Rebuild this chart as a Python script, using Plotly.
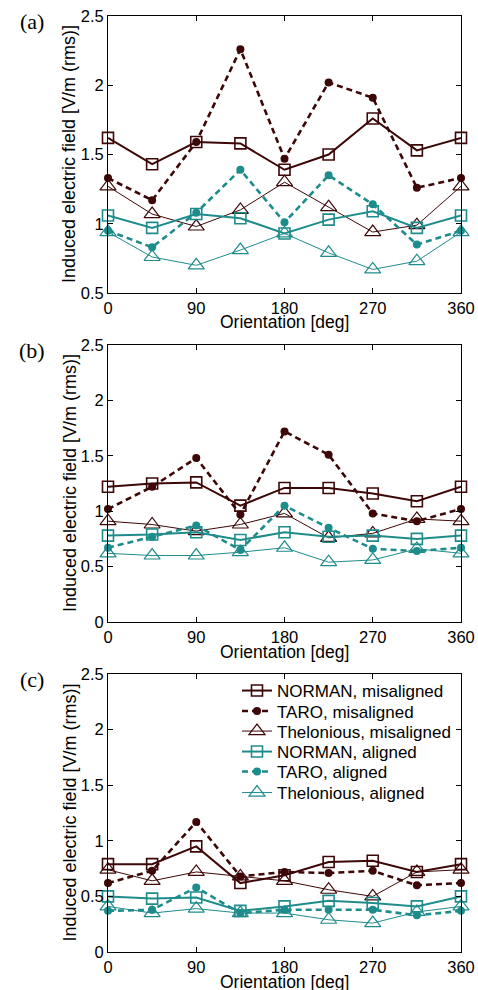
import plotly.graph_objects as go

orientation = [0, 45, 90, 135, 180, 225, 270, 315, 360]

series_names = ["NORMAN, misaligned", "TARO, misaligned", "Thelonious, misaligned",
                "NORMAN, aligned", "TARO, aligned", "Thelonious, aligned"]

# Panel (a)
a_norman_mis = [1.62, 1.43, 1.59, 1.58, 1.39, 1.50, 1.76, 1.53, 1.62]
a_taro_mis   = [1.33, 1.17, 1.59, 2.26, 1.47, 2.02, 1.91, 1.26, 1.33]
a_thel_mis   = [1.27, 1.07, 0.98, 1.10, 1.30, 1.12, 0.94, 0.99, 1.27]
a_norman_al  = [1.06, 0.97, 1.07, 1.04, 0.93, 1.03, 1.09, 0.97, 1.06]
a_taro_al    = [0.95, 0.83, 1.08, 1.39, 1.01, 1.35, 1.14, 0.85, 0.95]
a_thel_al    = [0.94, 0.76, 0.70, 0.81, 0.93, 0.79, 0.67, 0.73, 0.94]

# Panel (b)
b_norman_mis = [1.22, 1.25, 1.26, 1.05, 1.21, 1.21, 1.16, 1.09, 1.22]
b_taro_mis   = [1.02, 1.22, 1.48, 0.97, 1.72, 1.51, 0.98, 0.91, 1.02]
b_thel_mis   = [0.91, 0.88, 0.82, 0.88, 0.98, 0.76, 0.80, 0.93, 0.91]
b_norman_al  = [0.78, 0.79, 0.81, 0.74, 0.81, 0.77, 0.78, 0.75, 0.78]
b_taro_al    = [0.67, 0.77, 0.87, 0.65, 1.05, 0.85, 0.66, 0.64, 0.67]
b_thel_al    = [0.62, 0.60, 0.60, 0.63, 0.67, 0.54, 0.56, 0.66, 0.62]

# Panel (c)
c_norman_mis = [0.79, 0.79, 0.95, 0.62, 0.69, 0.81, 0.82, 0.72, 0.79]
c_taro_mis   = [0.62, 0.73, 1.17, 0.68, 0.72, 0.71, 0.73, 0.60, 0.62]
c_thel_mis   = [0.74, 0.64, 0.72, 0.68, 0.64, 0.56, 0.50, 0.72, 0.74]
c_norman_al  = [0.50, 0.48, 0.49, 0.37, 0.41, 0.46, 0.44, 0.41, 0.50]
c_taro_al    = [0.37, 0.38, 0.58, 0.35, 0.38, 0.38, 0.38, 0.33, 0.37]
c_thel_al    = [0.41, 0.35, 0.39, 0.35, 0.35, 0.29, 0.26, 0.36, 0.41]

panels = [
    [a_norman_mis, a_taro_mis, a_thel_mis, a_norman_al, a_taro_al, a_thel_al],
    [b_norman_mis, b_taro_mis, b_thel_mis, b_norman_al, b_taro_al, b_thel_al],
    [c_norman_mis, c_taro_mis, c_thel_mis, c_norman_al, c_taro_al, c_thel_al],
]
panel_labels = ["(a)", "(b)", "(c)"]
y_ranges = [[0.5, 2.5], [0, 2.5], [0, 2.5]]
y_ticks = [[0.5, 1, 1.5, 2, 2.5], [0, 0.5, 1, 1.5, 2, 2.5], [0, 0.5, 1, 1.5, 2, 2.5]]
y_ticktext = [["0.5", "1", "1.5", "2", "2.5"], ["0", "0.5", "1", "1.5", "2", "2.5"],
              ["0", "0.5", "1", "1.5", "2", "2.5"]]
x_ticks = [0, 90, 180, 270, 360]
x_title = "Orientation [deg]"
y_title = "Induced electric field [V/m (rms)]"

BROWN = "#3d0707"
TEAL = "#1f8c8c"

styles = [
    dict(color=BROWN, width=2.0, dash="solid", symbol="square-open", size=11, mlw=1.6),
    dict(color=BROWN, width=2.6, dash="6px,4px", symbol="circle", size=8, mlw=0),
    dict(color=BROWN, width=1.0, dash="solid", symbol="triangle-up-open", size=14, mlw=1.2),
    dict(color=TEAL, width=2.0, dash="solid", symbol="square-open", size=11, mlw=1.6),
    dict(color=TEAL, width=2.6, dash="6px,4px", symbol="circle", size=8, mlw=0),
    dict(color=TEAL, width=1.0, dash="solid", symbol="triangle-up-open", size=14, mlw=1.2),
]

FW, FH = 478, 990


def px_x(x):
    return x / FW


def px_y(y):
    return 1 - y / FH


left_px, right_px = 108, 461
panel_px = [(16, 293), (345, 622), (674, 952)]
legend_rows = [691, 711.5, 731.5, 752, 772, 793]
SANS = "Liberation Sans, Arial, Helvetica, sans-serif"

fig = go.Figure()
layout = dict(
    template="none",
    width=FW, height=FH,
    margin=dict(l=0, r=0, t=0, b=0, autoexpand=False),
    paper_bgcolor="white", plot_bgcolor="white",
    font=dict(family=SANS, size=16, color="black"),
    showlegend=True,
    annotations=[],
)

for s in range(6):
    key = "legend" if s == 0 else "legend%d" % (s + 1)
    layout[key] = dict(x=px_x(237), y=px_y(legend_rows[s]), xanchor="left", yanchor="middle",
                       bgcolor="rgba(255,255,255,0)", borderwidth=0,
                       font=dict(size=17, family=SANS), itemwidth=30)

for p in range(3):
    idx = "" if p == 0 else str(p + 1)
    xa = "x" + idx
    ya = "y" + idx
    for s in range(6):
        st = styles[s]
        fig.add_trace(go.Scatter(
            x=orientation, y=panels[p][s], xaxis=xa, yaxis=ya,
            mode="lines+markers", name=series_names[s],
            showlegend=(p == 2), legend=("legend" if s == 0 else "legend%d" % (s + 1)),
            cliponaxis=False,
            line=dict(color=st["color"], width=st["width"], dash=st["dash"]),
            marker=dict(symbol=st["symbol"], size=st["size"], color=st["color"],
                        line=dict(color=st["color"], width=st["mlw"])),
        ))
    top, bot = panel_px[p]
    layout["xaxis" + idx] = dict(
        domain=[px_x(left_px), px_x(right_px)], anchor=ya, range=[0, 360],
        tickvals=x_ticks, ticktext=[str(v) for v in x_ticks], automargin=False,
        ticklabeloverflow="allow",
        ticks="inside", ticklen=5, tickcolor="black", mirror="ticks",
        showline=True, linecolor="black", linewidth=1, showgrid=False, zeroline=False,
        tickfont=dict(size=16.5),
    )
    layout["yaxis" + idx] = dict(
        domain=[px_y(bot), px_y(top)], anchor=xa, range=y_ranges[p],
        tickvals=y_ticks[p], ticktext=y_ticktext[p], automargin=False,
        ticklabeloverflow="allow",
        ticks="inside", ticklen=5, tickcolor="black", mirror="ticks",
        showline=True, linecolor="black", linewidth=1, showgrid=False, zeroline=False,
        tickfont=dict(size=16.5),
    )
    layout["annotations"] += [
        dict(text=panel_labels[p], xref="paper", yref="paper",
             x=px_x(32), y=px_y(top + 5), xanchor="center", yanchor="middle",
             showarrow=False, font=dict(family="Liberation Serif, Times New Roman, serif", size=22)),
        dict(text=x_title, xref="paper", yref="paper",
             x=px_x((left_px + right_px) / 2), y=px_y(bot + 29.5), xanchor="center", yanchor="middle",
             showarrow=False, font=dict(size=17.5)),
        dict(text=y_title, xref="paper", yref="paper", textangle=-90,
             x=px_x(69.5), y=px_y((top + bot) / 2), xanchor="center", yanchor="middle",
             showarrow=False, font=dict(size=18)),
    ]

fig.update_layout(**layout)
fig.write_html("out.html", config={"displayModeBar": False},
               post_script="document.body.style.margin='0';document.body.style.overflow='hidden';")
